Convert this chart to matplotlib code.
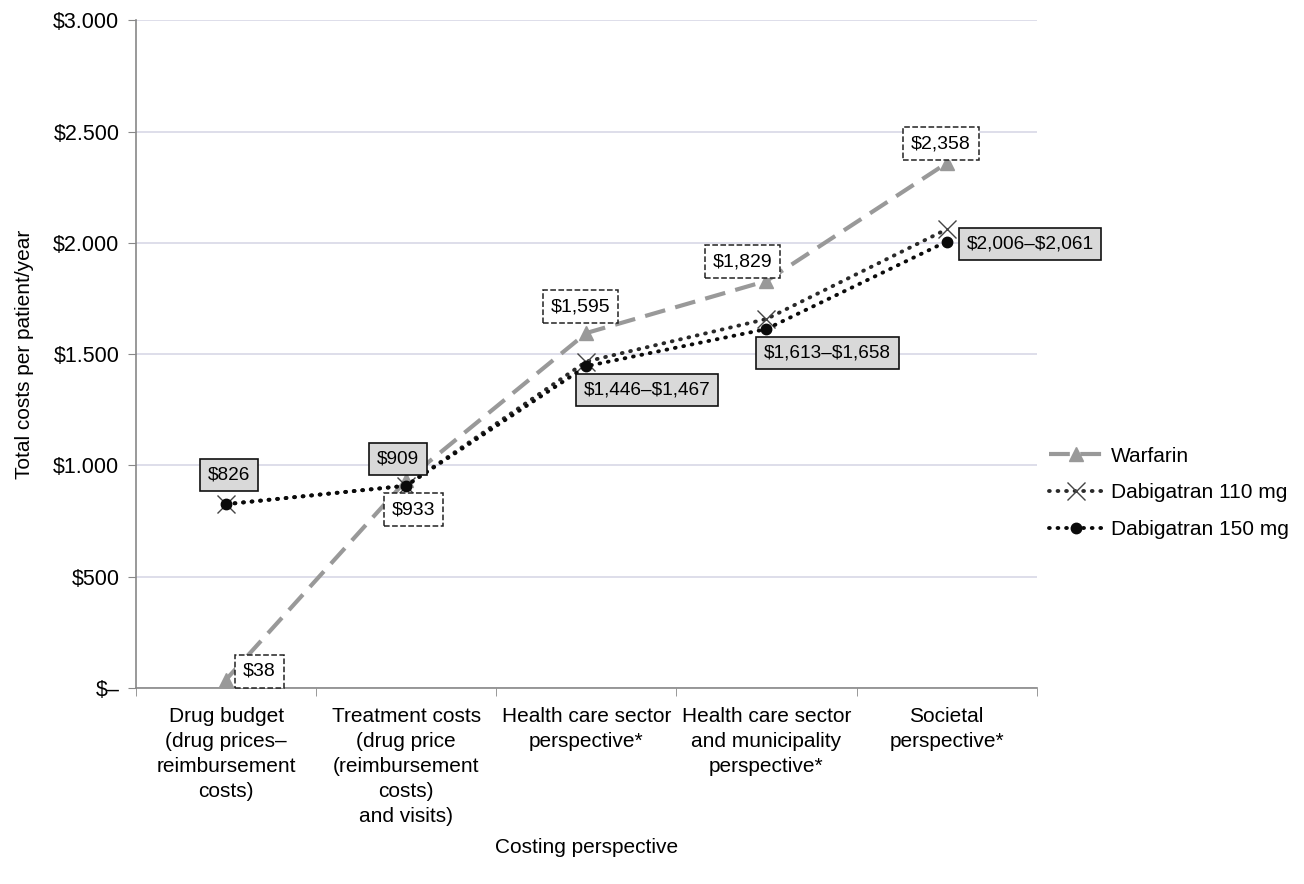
import numpy as np
import matplotlib
matplotlib.use("Agg")
import matplotlib.pyplot as plt
from matplotlib.ticker import FixedLocator

plt.rcParams['font.family'] = ['Liberation Sans', 'DejaVu Sans']
plt.rcParams['text.parse_math'] = False

# data
categories = ['Drug budget\n(drug prices–\nreimbursement\ncosts)',
              'Treatment costs\n(drug price\n(reimbursement\ncosts)\nand visits)',
              'Health care sector\nperspective*',
              'Health care sector\nand municipality\nperspective*',
              'Societal\nperspective*']
warfarin = [38, 933, 1595, 1829, 2358]
dabi110 = [826, 909, 1467, 1658, 2061]
dabi150 = [826, 909, 1446, 1613, 2006]
warf_labels = ['$38', '$933', '$1,595', '$1,829', '$2,358']
dabi_labels = ['$826', '$909', '$1,446–$1,467', '$1,613–$1,658', '$2,006–$2,061']
ytick_vals = [0, 500, 1000, 1500, 2000, 2500, 3000]
ytick_text = ['$–', '$500', '$1.000', '$1.500', '$2.000', '$2.500', '$3.000']

# label offsets (points)
warf_off = [(24, 6), (5, -21), (-4, 19), (-17, 14), (-4, 14)]
dabi_off = [(2, 21), (-6, 19), (44, -17), (44, -17), (60, -1.5)]

fig = plt.figure(figsize=(13.04, 8.84), dpi=100)
ax = fig.add_axes([0.1043, 0.2217, 0.6907, 0.7553])
x = np.arange(len(categories))

ax.plot(x, warfarin, color='#999999', lw=3, dashes=(5, 2.5), marker='^',
        markersize=10, label='Warfarin', zorder=3)
ax.plot(x, dabi110, color='#2a2a2a', lw=2.8, linestyle=(0, (0.2, 2.0)),
        dash_capstyle='round', marker='x', markersize=13, markeredgewidth=1.0,
        markeredgecolor='#444444', label='Dabigatran 110 mg', zorder=4)
ax.plot(x, dabi150, color='#0a0a0a', lw=2.8, linestyle=(0, (0.2, 2.0)),
        dash_capstyle='round', marker='o', markersize=7.5,
        label='Dabigatran 150 mg', zorder=5)

for xi, yi, t, off in zip(x, warfarin, warf_labels, warf_off):
    ax.annotate(t, (xi, yi), xytext=off, textcoords='offset points',
                ha='center', va='center', fontsize=14, zorder=6,
                bbox=dict(boxstyle='square,pad=0.4', fc='white', ec='#222222',
                          ls='--', lw=1.1))
for xi, yi, t, off in zip(x, dabi150, dabi_labels, dabi_off):
    ax.annotate(t, (xi, yi), xytext=off, textcoords='offset points',
                ha='center', va='center', fontsize=13.7, zorder=6,
                bbox=dict(boxstyle='square,pad=0.4', fc='#d9d9d9', ec='#111111',
                          lw=1.2))

ax.set_xlim(-0.5, len(categories) - 0.5)
ax.set_ylim(0, 3000)
ax.set_yticks(ytick_vals)
ax.set_yticklabels(ytick_text, fontsize=15.5)
ax.set_xticks(x)
ax.set_xticklabels(categories, fontsize=15, linespacing=1.4)
ax.xaxis.set_minor_locator(FixedLocator(np.arange(-0.5, len(categories), 1)))
ax.tick_params(axis='x', which='major', length=0, pad=14)
ax.tick_params(axis='x', which='minor', length=6, color='#888888')
ax.tick_params(axis='y', length=6, color='#888888', pad=6)
ax.grid(axis='y', color='#d8d8e6', lw=1.2)
ax.set_axisbelow(True)
for s in ['top', 'right']:
    ax.spines[s].set_visible(False)
for s in ['left', 'bottom']:
    ax.spines[s].set_color('#888888')
    ax.spines[s].set_linewidth(1.2)

ax.set_ylabel('Total costs per patient/year', fontsize=15, labelpad=14)
ax.set_xlabel('Costing perspective', fontsize=15, labelpad=8)

fig.legend(loc='center left', bbox_to_anchor=(1030 / 1304, 1 - 493 / 884),
           frameon=False, fontsize=15, handlelength=2.6, labelspacing=0.85,
           handletextpad=0.4)

fig.savefig('out.png', dpi=100)
